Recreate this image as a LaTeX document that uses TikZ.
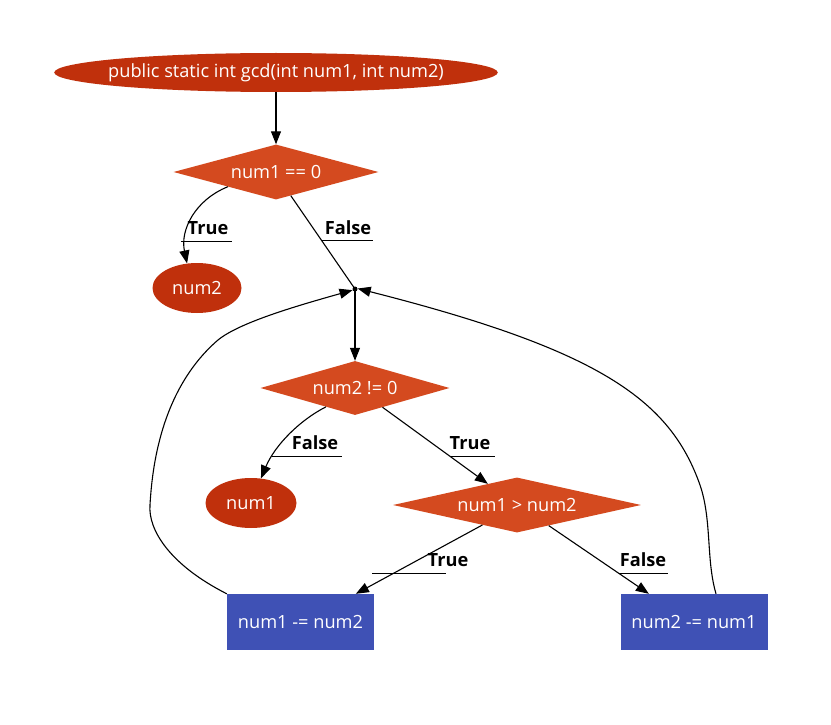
\documentclass[tikz,border=0pt]{standalone}
\usepackage{fontspec}
\setmainfont{Open Sans}
\usetikzlibrary{shapes.geometric,arrows.meta,calc}
\definecolor{termred}{RGB}{192,48,12}
\definecolor{decred}{RGB}{212,74,31}
\definecolor{procblue}{RGB}{63,81,181}
\begin{document}
\begin{tikzpicture}[x=1pt,y=-1pt,
  every node/.style={font=\fontsize{18.2}{21}\selectfont},
  term/.style={ellipse, fill=termred, text=white, inner sep=0pt},
  dec/.style={diamond, fill=decred, text=white, inner sep=0pt},
  proc/.style={rectangle, fill=procblue, text=white, inner sep=0pt, minimum width=147pt, minimum height=56pt},
  junc/.style={circle, fill=black, inner sep=0pt, minimum size=5pt},
  lab/.style={font=\fontsize{18.2}{21}\selectfont\bfseries, text=black, inner sep=0pt},
  arr/.style={line width=1.1pt, -{Triangle[length=13pt,width=10pt]}},
  plain/.style={line width=1.1pt},
  uline/.style={line width=1pt}]
\useasboundingbox (0,0) rectangle (831,725);

\node[term, minimum width=443pt, minimum height=39pt, inner xsep=-11pt] (start) at (276,72.5) {public static int gcd(int num1, int num2)};
\node[dec, minimum width=205pt, minimum height=55pt, aspect=3.7] (d1) at (276,172) {num1 == 0};
\node[term, minimum width=89pt, minimum height=50pt] (r2) at (197,288) {num2};
\node[junc] (j) at (355,289) {};
\node[dec, minimum width=189pt, minimum height=54pt, aspect=3.5] (d2) at (355,388) {num2 != 0};
\node[term, minimum width=91pt, minimum height=50pt] (r1) at (251,503) {num1};
\node[dec, minimum width=248pt, minimum height=55pt, aspect=4.5] (d3) at (517,505) {num1 > num2};
\node[proc] (b1) at (300.5,622) {num1 -= num2};
\node[proc] (b2) at (694,622) {num2 -= num1};

% edges
\draw[arr] (start) -- (d1);
\draw[arr] (d1.197) .. controls (195,200) and (180,230) .. (r2.112);
\draw[plain] (d1.302) -- (j.center);
\draw[arr] (j.center) -- (d2);
\draw[arr] (d2.213) .. controls (300,420) and (275,445) .. (r1.68);
\draw[arr] (d2.325) -- (d3.144);
\draw[arr] (d3.210) -- (b1.27);
\draw[arr] (d3.327) -- (b2.148);

% loops back
\draw[arr] (b1.north west) .. controls (170,565) and (148,530) .. (150,505)
  .. controls (152,470) and (160,390) .. (218,340)
  .. controls (240,322) and (300,305) .. (j.205);
\draw[arr] (b2.52) .. controls (706,560) and (712,520) .. (700,485)
  .. controls (670,400) and (600,350) .. (j.10);

% labels
\node[lab] (lt1) at (208,228) {True};
\draw[uline] (181,241) -- (232,241);
\node[lab] (lf1) at (348,228) {False};
\draw[uline] (322,240) -- (373,240);
\node[lab] (lf2) at (315,443) {False};
\draw[uline] (272,456) -- (342,456);
\node[lab] (lt2) at (470,443) {True};
\draw[uline] (451,456) -- (495,456);
\node[lab] (lt3) at (448,560) {True};
\draw[uline] (372,573) -- (446,573);
\node[lab] (lf3) at (643,560) {False};
\draw[uline] (619,573) -- (668,573);
\end{tikzpicture}
\end{document}
